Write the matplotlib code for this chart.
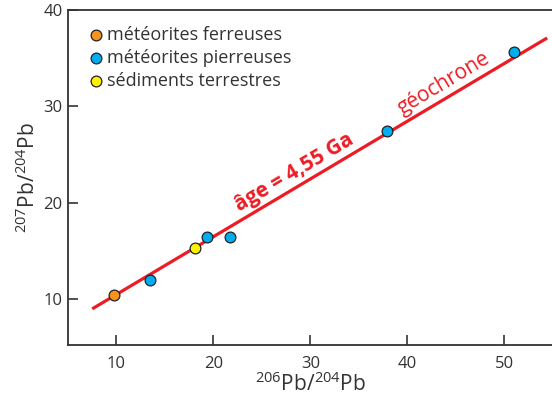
import numpy as np
import matplotlib
matplotlib.use('Agg')
import matplotlib.pyplot as plt

plt.rcParams['font.family'] = ['Open Sans', 'DejaVu Sans']
plt.rcParams['mathtext.fontset'] = 'custom'
plt.rcParams['mathtext.rm'] = 'Open Sans'

# data
fer_x = [9.7]
fer_y = [10.4]
pier_x = [13.5, 19.3, 21.7, 37.9, 51.0]
pier_y = [12.0, 16.5, 16.5, 27.4, 35.6]
sed_x = [18.1]
sed_y = [15.3]
geo_x = [7.5, 54.4]
geo_y = [9.0, 37.1]

x_ticks = [10, 20, 30, 40, 50]
y_ticks = [10, 20, 30, 40]

RED = '#ED1C24'
DARK = '#333333'

fig = plt.figure(figsize=(5.52, 3.96), dpi=100)
ax = fig.add_axes([68 / 552, 51 / 396, 484 / 552, 335 / 396])

ax.plot(geo_x, geo_y, color=RED, lw=2.3, zorder=2, solid_capstyle='butt')

kw = dict(s=60, edgecolors='#231F20', linewidths=0.9, zorder=3)
ax.scatter(fer_x, fer_y, color='#F7941D', label='météorites ferreuses', **kw)
ax.scatter(pier_x, pier_y, color='#00AEEF', label='météorites pierreuses', **kw)
ax.scatter(sed_x, sed_y, color='#FFF200', label='sédiments terrestres', **kw)

ax.set_xlim(5, 54.9)
ax.set_ylim(5.25, 40)
ax.set_xticks(x_ticks)
ax.set_yticks(y_ticks)
ax.tick_params(direction='in', length=7, width=1.2, color=DARK,
               labelsize=12, labelcolor=DARK)
ax.tick_params(axis='x', pad=8)
ax.tick_params(axis='y', pad=4)
for s in ['left', 'bottom', 'top']:
    ax.spines[s].set_color(DARK)
    ax.spines[s].set_linewidth(1.3)
ax.spines['right'].set_visible(False)

ax.set_xlabel(r'$^{206}$Pb/$^{204}$Pb', fontsize=15, color=DARK, labelpad=0)
ax.set_ylabel(r'$^{207}$Pb/$^{204}$Pb', fontsize=15, color=DARK, labelpad=2)

# text along the geochron
slope = (geo_y[1] - geo_y[0]) / (geo_x[1] - geo_x[0])
ang = ax.transData.transform_angles(np.array([np.degrees(np.arctan(slope))]),
                                    np.array([[28, 23]]))[0]
ax.text(28.3, 23.1, 'âge = 4,55 Ga', color=RED, fontsize=15, fontweight='bold',
        rotation=ang, rotation_mode='anchor', ha='center', va='center')
ax.text(43.8, 32.4, 'géochrone', color=RED, fontsize=15,
        rotation=ang, rotation_mode='anchor', ha='center', va='center')

leg = ax.legend(loc='upper left', frameon=False, fontsize=13, handlelength=0.6,
                handletextpad=0.35, labelspacing=0.28, borderaxespad=0.3,
                bbox_to_anchor=(0.02, 0.99))
for t in leg.get_texts():
    t.set_color(DARK)

fig.savefig('out.png', dpi=100)
